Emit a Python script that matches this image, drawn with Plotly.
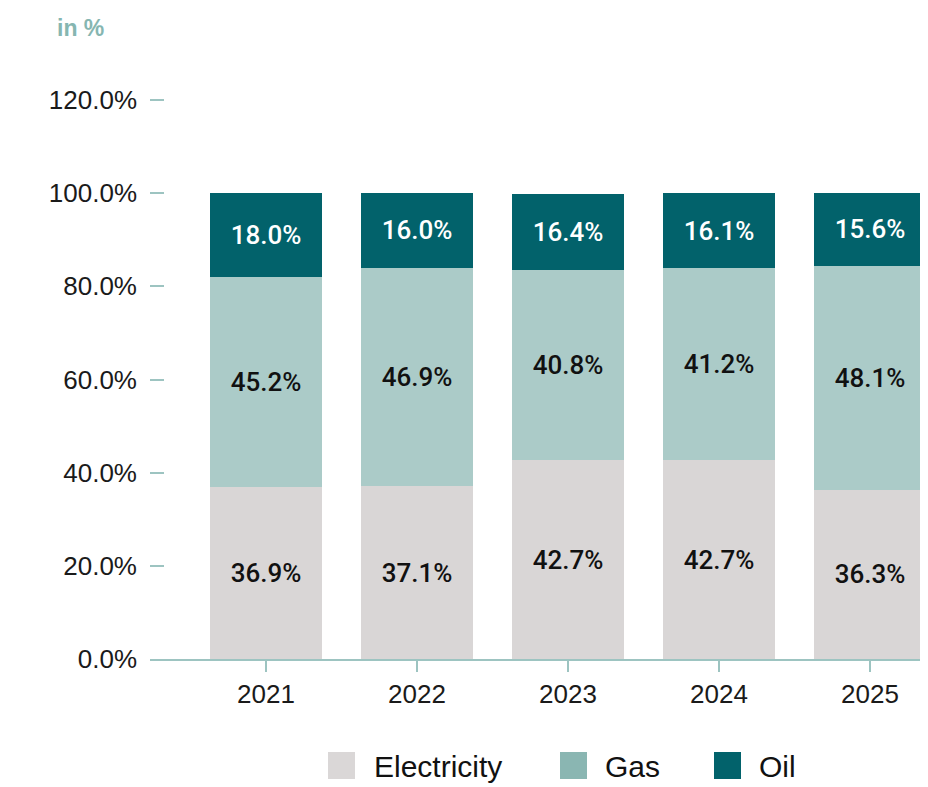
import plotly.graph_objects as go

years = ["2021", "2022", "2023", "2024", "2025"]
electricity = [36.9, 37.1, 42.7, 42.7, 36.3]
gas = [45.2, 46.9, 40.8, 41.2, 48.1]
oil = [18.0, 16.0, 16.4, 16.1, 15.6]
series_names = ["Electricity", "Gas", "Oil"]
y_ticks = [0, 20, 40, 60, 80, 100, 120]
y_tick_labels = ["0.0%", "20.0%", "40.0%", "60.0%", "80.0%", "100.0%", "120.0%"]

FONT = "Liberation Sans, Arial, Helvetica, sans-serif"
LFONT = "Roboto, Liberation Sans, Arial, sans-serif"
C_ELEC = "#d9d6d6"
C_GAS = "#abcbc8"
C_OIL = "#02626b"
C_AXIS = "#9dc4c1"
C_TITLE = "#86b6b1"

fig = go.Figure()
for name, vals, col, tcol in [
    (series_names[0], electricity, C_ELEC, "#111111"),
    (series_names[1], gas, C_GAS, "#111111"),
    (series_names[2], oil, C_OIL, "#ffffff"),
]:
    fig.add_trace(go.Bar(
        x=years, y=vals, name=name,
        marker=dict(color=col, line=dict(width=0)),
        texttemplate="%{y:.1f}%", textposition="inside",
        insidetextanchor="middle", textangle=0,
        textfont=dict(family=LFONT, size=26, color=tcol, weight=500),
        showlegend=False, hoverinfo="skip",
    ))

# page offset (body margin) = 8px; layout coordinates below are in figure pixels
L, R, T, B = 142, 8, 83, 136
PW, PH = 928 - L - R, 787 - T - B


def px(x):
    return (x - L) / PW


def py(y):
    return (787 - B - y) / PH


# manual legend (large square swatches)
leg = [
    (series_names[0], "#dad7d7", 320, 364),
    (series_names[1], "#8ab6b2", 552, 595),
    (series_names[2], C_OIL, 706, 749),
]
for name, col, sx, tx in leg:
    fig.add_shape(type="rect", xref="paper", yref="paper",
                  x0=px(sx), x1=px(sx + 27), y0=py(771), y1=py(744),
                  fillcolor=col, line=dict(width=0))
    fig.add_annotation(xref="paper", yref="paper", x=px(tx), y=py(758),
                       text=name, showarrow=False, xanchor="left", yanchor="middle",
                       font=dict(family=FONT, size=30, color="#111111"))

fig.add_annotation(xref="paper", yref="paper", x=px(47), y=py(20),
                   text="<b>in %</b>", showarrow=False, xanchor="left", yanchor="middle",
                   font=dict(family=FONT, size=23, color=C_TITLE))

fig.update_layout(
    width=928, height=787,
    margin=dict(l=L, r=R, t=T, b=B),
    barmode="stack", bargap=0.26,
    plot_bgcolor="white", paper_bgcolor="white",
    font=dict(family=FONT, size=26, color="#1a1a1a"),
    showlegend=False,
)
fig.update_xaxes(
    type="category", range=[-0.768, 4.384],
    showline=True, linecolor=C_AXIS, linewidth=2,
    ticks="outside", ticklen=11, tickwidth=2, tickcolor=C_AXIS,
    showgrid=False, zeroline=False,
    tickfont=dict(family=FONT, size=26, color="#1a1a1a"),
)
fig.update_yaxes(
    range=[0, 121.93], tickvals=y_ticks, ticktext=y_tick_labels,
    showline=False, showgrid=False, zeroline=False,
    ticks="inside", ticklen=14, tickwidth=2, tickcolor=C_AXIS,
    ticklabelstandoff=12,
    tickfont=dict(family=FONT, size=26, color="#1a1a1a"),
)

fig.write_html("out.html")
